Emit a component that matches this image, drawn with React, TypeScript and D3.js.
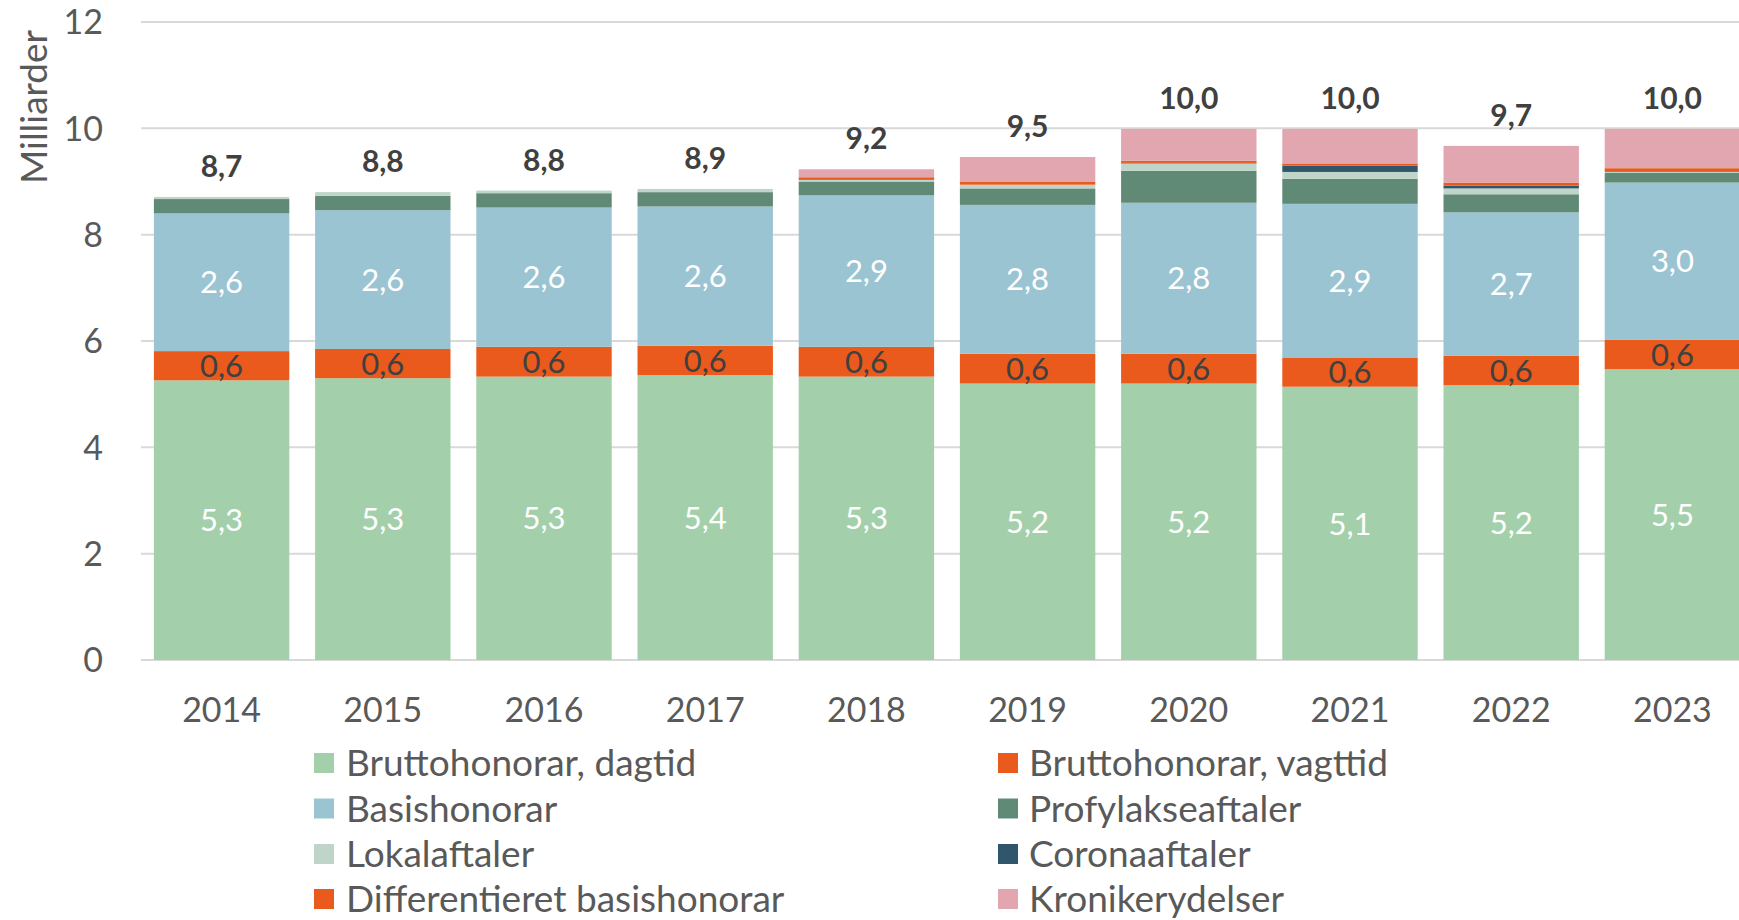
import React from "react";
import * as d3 from "d3";

const years = ["2014", "2015", "2016", "2017", "2018", "2019", "2020", "2021", "2022", "2023"];
const dagtid = [5.26, 5.30, 5.33, 5.36, 5.33, 5.20, 5.20, 5.14, 5.17, 5.47];
const vagttid = [0.55, 0.55, 0.56, 0.55, 0.56, 0.56, 0.56, 0.55, 0.55, 0.55];
const basis = [2.59, 2.61, 2.62, 2.62, 2.85, 2.80, 2.84, 2.89, 2.70, 2.96];
const profylakse = [0.27, 0.27, 0.27, 0.27, 0.26, 0.31, 0.60, 0.47, 0.34, 0.18];
const lokal = [0.04, 0.07, 0.05, 0.06, 0.03, 0.07, 0.14, 0.13, 0.11, 0.02];
const corona = [0, 0, 0, 0, 0, 0, 0.01, 0.12, 0.05, 0];
const diffBasis = [0, 0, 0, 0, 0.05, 0.06, 0.04, 0.04, 0.06, 0.07];
const kroniker = [0, 0, 0, 0, 0.15, 0.46, 0.60, 0.65, 0.69, 0.74];
const yTicks = [0, 2, 4, 6, 8, 10, 12];

const seriesNames = [
  "Bruttohonorar, dagtid",
  "Bruttohonorar, vagttid",
  "Basishonorar",
  "Profylakseaftaler",
  "Lokalaftaler",
  "Coronaaftaler",
  "Differentieret basishonorar",
  "Kronikerydelser",
];
const seriesValues = [dagtid, vagttid, basis, profylakse, lokal, corona, diffBasis, kroniker];
const seriesColors = ["#a3d0aa", "#e95a1c", "#9bc4d2", "#608a76", "#bfd5c9", "#2f566b", "#e95a1c", "#e1a6b0"];
// label colour per series (null = no label)
const labelColors = ["#ffffff", "#404040", "#ffffff", null, null, null, null, null];

const FONT = "Lato, 'Open Sans', sans-serif";

function fmt(v: number) {
  const r = Math.round(v * 10 + 1e-6) / 10;
  return r.toFixed(1).replace(".", ",");
}

export default function App() {
  const W = 1739;
  const H = 920;
  const left = 141;
  const x = d3.scaleBand<string>().domain(years).range([left, left + 1612]).paddingInner(0.16).paddingOuter(0.08);
  const y = d3.scaleLinear().domain([0, 12]).range([660, 22]);

  const table = years.map((yr, i) => {
    const row: any = { year: yr };
    seriesNames.forEach((n, k) => (row[n] = seriesValues[k][i]));
    return row;
  });
  const stacked = d3.stack<any>().keys(seriesNames)(table);
  const totals = years.map((_, i) => d3.sum(seriesValues, (s) => s[i]));

  const legendRows = [763, 808.5, 854, 899];
  const legendCols = [{ mx: 314, tx: 346 }, { mx: 998, tx: 1029 }];

  return (
    <svg width={W} height={H} style={{ position: "absolute", left: 0, top: 0, background: "#fff" }}>
      <rect x={0} y={0} width={W} height={H} fill="#ffffff" />
      {/* gridlines */}
      {yTicks.map((t) => (
        <line key={"g" + t} x1={left} x2={W} y1={y(t)} y2={y(t)} stroke="#d9d9d9" strokeWidth={2} />
      ))}
      {/* y tick labels */}
      {yTicks.map((t) => (
        <text key={"yt" + t} x={103} y={y(t)} dy="0.36em" textAnchor="end" fontFamily={FONT} fontSize={34} fill="#595959">
          {t}
        </text>
      ))}
      <text
        transform={`translate(47, 107) rotate(-90)`}
        textAnchor="middle"
        fontFamily={FONT}
        fontSize={37}
        fill="#595959"
      >
        Milliarder
      </text>
      {/* bars */}
      {stacked.map((layer, k) => (
        <g key={"s" + k} fill={seriesColors[k]}>
          {layer.map((d, i) => {
            const h = y(d[0]) - y(d[1]);
            if (h <= 0) return null;
            return <rect key={i} x={x(years[i])} y={y(d[1])} width={x.bandwidth()} height={h} />;
          })}
        </g>
      ))}
      {/* segment labels */}
      {stacked.map((layer, k) =>
        labelColors[k]
          ? layer.map((d, i) => (
              <text
                key={"l" + k + "-" + i}
                x={(x(years[i]) as number) + x.bandwidth() / 2}
                y={y((d[0] + d[1]) / 2)}
                dy="0.36em"
                textAnchor="middle"
                fontFamily={FONT}
                fontSize={31}
                fill={labelColors[k] as string}
              >
                {fmt(d[1] - d[0])}
              </text>
            ))
          : null
      )}
      {/* totals */}
      {totals.map((t, i) => (
        <text
          key={"t" + i}
          x={(x(years[i]) as number) + x.bandwidth() / 2}
          y={y(t) - 20}
          textAnchor="middle"
          fontFamily={FONT}
          fontWeight="bold"
          fontSize={30}
          fill="#404040"
        >
          {fmt(t)}
        </text>
      ))}
      {/* x tick labels */}
      {years.map((yr) => (
        <text
          key={"xt" + yr}
          x={(x(yr) as number) + x.bandwidth() / 2}
          y={722}
          textAnchor="middle"
          fontFamily={FONT}
          fontSize={34}
          fill="#595959"
        >
          {yr}
        </text>
      ))}
      {/* legend */}
      {seriesNames.map((n, k) => {
        const col = legendCols[k % 2];
        const ry = legendRows[Math.floor(k / 2)];
        return (
          <g key={"lg" + k}>
            <rect x={col.mx} y={ry - 10} width={20} height={20} fill={seriesColors[k]} />
            <text x={col.tx} y={ry} dy="0.36em" fontFamily={FONT} fontSize={37} fill="#595959">
              {n}
            </text>
          </g>
        );
      })}
    </svg>
  );
}
